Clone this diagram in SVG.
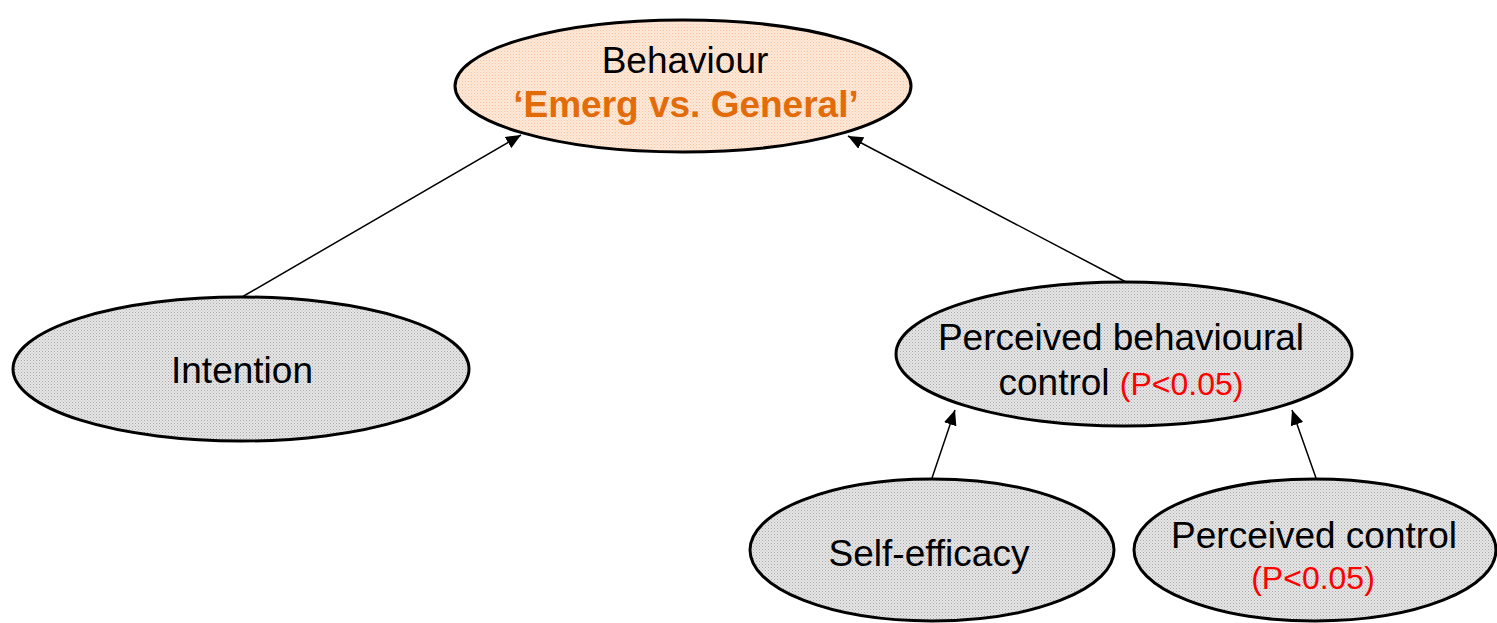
<svg xmlns="http://www.w3.org/2000/svg" width="1497" height="623" viewBox="0 0 1497 623">
<style>
.node{stroke:#000;stroke-width:3}
.g{fill:url(#grey)}
.o{fill:url(#peach)}
text{font-family:"Liberation Sans",Arial,sans-serif;text-anchor:middle;fill:#000}
.t{font-size:37px}
.r{fill:#ff0000;font-size:32px}
.b{font-weight:bold;fill:#e36c0a;font-size:37px}
.c{stroke:#000;stroke-width:1.5;fill:none;marker-end:url(#ah)}
</style>
<defs>
<pattern id="grey" width="3" height="3" patternUnits="userSpaceOnUse">
<rect width="3" height="3" fill="#e6e6e6"/>
<rect width="1" height="1" fill="#a8a8a8"/>
<rect x="1.5" y="1.5" width="1" height="1" fill="#b8b8b8"/>
</pattern>
<pattern id="peach" width="3" height="3" patternUnits="userSpaceOnUse">
<rect width="3" height="3" fill="#fde9d9"/>
<rect width="1" height="1" fill="#f8c39b"/>
<rect x="1.5" y="1.5" width="1" height="1" fill="#fad3b5"/>
</pattern>
<marker id="ah" viewBox="0 0 10 10" refX="10" refY="5" markerWidth="15" markerHeight="13" markerUnits="userSpaceOnUse" orient="auto" preserveAspectRatio="none">
<path d="M0,0 L10,5 L0,10 z" fill="#000"/>
</marker>
</defs>
<g id="connectors">
<line class="c" x1="242" y1="297" x2="521" y2="135"/>
<line class="c" x1="1126" y1="282" x2="848" y2="136"/>
<line class="c" x1="932" y1="478" x2="955" y2="410"/>
<line class="c" x1="1316" y1="478" x2="1292" y2="410"/>
</g>
<g id="behaviour">
<ellipse class="node o" cx="683" cy="86" rx="228" ry="66"/>
<text class="t" x="685" y="73">Behaviour</text>
<text class="b" x="686" y="117">‘Emerg vs. General’</text>
</g>
<g id="intention">
<ellipse class="node g" cx="241" cy="369" rx="228" ry="72"/>
<text class="t" x="242" y="383">Intention</text>
</g>
<g id="pbc">
<ellipse class="node g" cx="1124" cy="354" rx="228" ry="72"/>
<text class="t" x="1121" y="350">Perceived behavioural</text>
<text class="t" x="1121" y="395">control <tspan class="r">(P&lt;0.05)</tspan></text>
</g>
<g id="selfefficacy">
<ellipse class="node g" cx="932" cy="550" rx="182" ry="71"/>
<text class="t" x="929" y="566">Self-efficacy</text>
</g>
<g id="perceivedcontrol">
<ellipse class="node g" cx="1315" cy="550" rx="181" ry="71"/>
<text class="t" x="1314" y="548">Perceived control</text>
<text class="r" x="1313" y="589">(P&lt;0.05)</text>
</g>
</svg>
